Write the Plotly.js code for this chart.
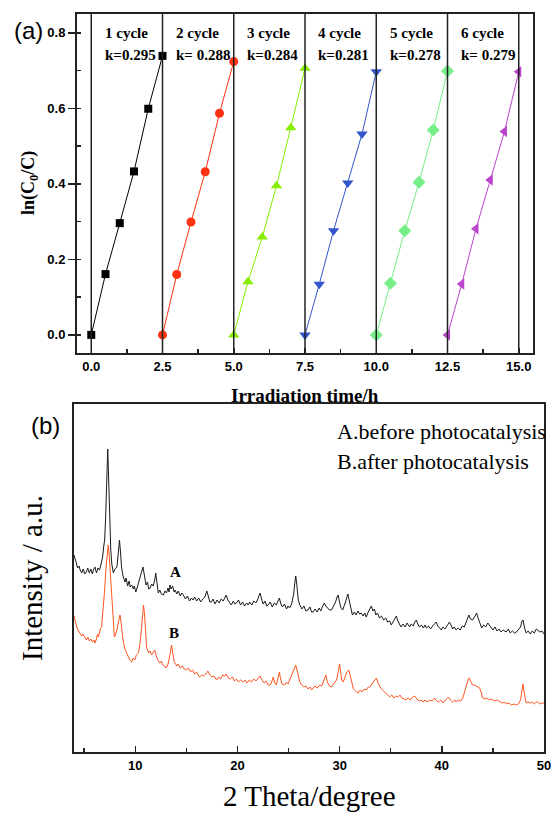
<!DOCTYPE html>
<html>
<head>
<meta charset="utf-8">
<script src="https://cdn.plot.ly/plotly-3.0.1.min.js"></script>
<style>html,body{margin:0;padding:0;background:#fff;}#chart{width:555px;height:814px;}</style>
</head>
<body>
<div id="chart"></div>
<script>
// ---------- Panel (a): ln(C0/C) vs irradiation time, 6 cycles ----------
const t1 = [0, 0.5, 1, 1.5, 2, 2.5];
const t2 = [2.5, 3, 3.5, 4, 4.5, 5];
const t3 = [5, 5.5, 6, 6.5, 7, 7.5];
const t4 = [7.5, 8, 8.5, 9, 9.5, 10];
const t5 = [10, 10.5, 11, 11.5, 12, 12.5];
const t6 = [12.5, 13, 13.5, 14, 14.5, 15];
const ln1 = [0, 0.161, 0.296, 0.433, 0.599, 0.739];
const ln2 = [0, 0.160, 0.299, 0.432, 0.587, 0.724];
const ln3 = [0, 0.141, 0.259, 0.395, 0.549, 0.706];
const ln4 = [0, 0.134, 0.276, 0.402, 0.532, 0.697];
const ln5 = [0, 0.137, 0.276, 0.404, 0.543, 0.699];
const ln6 = [0, 0.135, 0.281, 0.410, 0.539, 0.697];
const cycleLabels = ['1 cycle', '2 cycle', '3 cycle', '4 cycle', '5 cycle', '6 cycle'];
const kLabels = ['k=0.295', 'k= 0.288', 'k=0.284', 'k=0.281', 'k=0.278', 'k= 0.279'];
const separators = [0, 2.5, 5, 7.5, 10, 12.5, 15];

// ---------- Panel (b): XRD patterns, [2theta, intensity (a.u.)] ----------
const patternA = [[4.0,197],[4.1,192],[4.2,190],[4.35,184],[4.5,186],[4.6,182],[4.75,179],[4.9,183],[5.05,178],[5.2,180],[5.35,184],[5.5,179],[5.65,183],[5.8,178],[5.9,182],[6.05,185],[6.2,179],[6.35,184],[6.5,182],[6.65,188],[6.8,195],[6.9,205],[7.0,212],[7.1,235],[7.2,275],[7.3,303],[7.4,270],[7.5,225],[7.6,202],[7.7,188],[7.85,179],[8.0,183],[8.2,185],[8.3,195],[8.45,212],[8.55,200],[8.65,185],[8.8,176],[9.0,170],[9.1,174],[9.25,166],[9.4,171],[9.5,165],[9.65,167],[9.8,163],[9.9,166],[10.05,160],[10.2,165],[10.35,170],[10.45,174],[10.6,180],[10.75,185],[10.9,176],[11.05,167],[11.2,170],[11.3,163],[11.45,164],[11.6,168],[11.75,166],[11.9,172],[12.0,179],[12.1,172],[12.25,159],[12.4,162],[12.55,158],[12.75,157],[12.9,161],[13.05,159],[13.2,164],[13.3,160],[13.4,167],[13.5,163],[13.65,166],[13.8,160],[13.9,162],[14.05,158],[14.2,161],[14.4,156],[14.55,159],[14.7,157],[14.9,153],[15.1,156],[15.3,151],[15.5,154],[15.65,152],[15.8,155],[16.0,151],[16.2,154],[16.4,150],[16.6,153],[16.8,155],[17.0,161],[17.15,156],[17.3,150],[17.45,150],[17.6,153],[17.8,148],[18.0,152],[18.2,149],[18.4,153],[18.6,151],[18.75,155],[18.9,157],[19.05,152],[19.2,150],[19.4,147],[19.6,151],[19.75,148],[19.9,149],[20.1,152],[20.3,147],[20.5,150],[20.7,146],[20.9,149],[21.05,147],[21.2,150],[21.4,147],[21.6,151],[21.8,149],[22.0,153],[22.2,159],[22.35,152],[22.5,148],[22.7,151],[22.85,146],[23.0,147],[23.2,150],[23.4,145],[23.6,149],[23.8,147],[23.95,151],[24.1,154],[24.25,148],[24.4,145],[24.6,148],[24.8,143],[24.95,146],[25.1,144],[25.3,148],[25.5,158],[25.6,168],[25.7,176],[25.8,168],[25.95,152],[26.1,147],[26.3,143],[26.5,146],[26.7,141],[26.9,142],[27.1,145],[27.25,140],[27.4,140],[27.6,143],[27.8,140],[28.0,144],[28.15,141],[28.3,145],[28.5,149],[28.65,146],[28.8,144],[29.0,142],[29.2,142],[29.4,146],[29.6,150],[29.75,155],[29.85,157],[29.95,152],[30.1,145],[30.3,142],[30.45,146],[30.6,151],[30.8,158],[30.9,153],[31.05,144],[31.25,137],[31.45,140],[31.6,137],[31.8,141],[31.95,138],[32.1,139],[32.3,136],[32.45,139],[32.6,135],[32.8,140],[32.95,143],[33.1,146],[33.25,141],[33.4,143],[33.55,137],[33.7,139],[33.9,134],[34.1,136],[34.3,132],[34.5,134],[34.7,130],[34.9,131],[35.05,127],[35.2,130],[35.35,133],[35.55,136],[35.7,131],[35.85,128],[36.0,125],[36.2,128],[36.4,125],[36.6,129],[36.85,125],[37.0,128],[37.2,126],[37.35,130],[37.5,132],[37.65,128],[37.8,125],[38.0,127],[38.2,124],[38.35,127],[38.5,124],[38.7,126],[38.9,123],[39.1,126],[39.3,128],[39.45,130],[39.6,126],[39.8,124],[39.95,122],[40.1,125],[40.3,123],[40.5,126],[40.75,130],[40.9,127],[41.05,123],[41.2,125],[41.4,122],[41.6,124],[41.8,122],[42.0,126],[42.2,125],[42.35,129],[42.5,134],[42.65,137],[42.8,133],[43.0,132],[43.2,135],[43.4,139],[43.55,134],[43.75,128],[43.9,124],[44.1,127],[44.3,125],[44.5,129],[44.7,126],[44.85,124],[45.0,122],[45.2,125],[45.4,121],[45.6,123],[45.8,120],[46.0,122],[46.3,120],[46.5,123],[46.7,119],[46.9,121],[47.1,119],[47.3,120],[47.5,122],[47.7,125],[47.85,131],[47.95,132],[48.1,124],[48.25,119],[48.45,121],[48.65,118],[48.85,121],[49.05,119],[49.25,123],[49.4,122],[49.6,120],[49.8,121],[50.0,118]];
const patternB = [[4.0,136],[4.1,132],[4.2,128],[4.3,124],[4.45,121],[4.6,119],[4.75,116],[4.9,118],[5.05,114],[5.2,112],[5.35,115],[5.5,111],[5.65,113],[5.8,110],[5.95,112],[6.05,109],[6.2,113],[6.3,118],[6.4,115],[6.5,121],[6.6,124],[6.7,125],[6.8,135],[6.9,148],[7.0,162],[7.1,180],[7.2,195],[7.3,204],[7.35,207],[7.45,196],[7.55,180],[7.65,160],[7.75,140],[7.85,125],[7.95,115],[8.05,117],[8.2,122],[8.35,130],[8.5,137],[8.6,130],[8.7,120],[8.8,112],[8.95,104],[9.15,99],[9.3,95],[9.45,92],[9.65,90],[9.8,94],[9.95,92],[10.1,97],[10.3,99],[10.45,108],[10.6,122],[10.7,138],[10.8,147],[10.9,138],[11.0,118],[11.1,105],[11.3,99],[11.45,101],[11.6,97],[11.75,100],[11.9,102],[12.05,96],[12.2,92],[12.4,89],[12.55,91],[12.7,87],[12.85,86],[13.0,84],[13.2,88],[13.35,95],[13.5,105],[13.55,107],[13.65,100],[13.8,90],[13.9,89],[14.05,86],[14.2,88],[14.4,84],[14.6,86],[14.8,83],[15.0,82],[15.2,84],[15.4,80],[15.6,82],[15.8,78],[16.0,80],[16.15,77],[16.3,75],[16.5,77],[16.7,76],[16.9,78],[17.1,81],[17.3,77],[17.5,75],[17.7,76],[17.95,72],[18.15,75],[18.35,73],[18.55,77],[18.75,76],[18.9,78],[19.1,74],[19.3,73],[19.5,75],[19.7,71],[19.9,73],[20.1,70],[20.3,72],[20.55,70],[20.75,72],[20.95,69],[21.15,72],[21.35,70],[21.6,73],[21.8,71],[22.0,74],[22.2,76],[22.4,72],[22.6,69],[22.8,71],[23.0,67],[23.2,67],[23.35,70],[23.5,75],[23.65,69],[23.8,67],[23.95,73],[24.1,80],[24.2,74],[24.35,68],[24.6,67],[24.8,70],[24.95,68],[25.1,72],[25.3,76],[25.5,83],[25.7,87],[25.85,81],[26.0,73],[26.1,70],[26.3,67],[26.5,65],[26.7,66],[26.9,63],[27.1,65],[27.25,62],[27.4,64],[27.6,66],[27.8,64],[28.05,67],[28.25,66],[28.4,70],[28.55,76],[28.65,77],[28.8,70],[29.0,66],[29.2,65],[29.4,68],[29.55,71],[29.7,72],[29.85,80],[30.0,88],[30.1,80],[30.2,72],[30.35,70],[30.5,74],[30.7,80],[30.9,82],[31.05,76],[31.2,68],[31.35,63],[31.55,61],[31.8,59],[32.0,62],[32.2,60],[32.4,63],[32.6,62],[32.8,65],[32.95,65],[33.15,68],[33.35,71],[33.5,73],[33.6,74],[33.75,69],[33.95,65],[34.2,62],[34.4,60],[34.65,57],[34.9,55],[35.1,57],[35.3,54],[35.5,56],[35.7,55],[35.9,57],[36.1,54],[36.3,53],[36.5,52],[36.7,54],[36.9,52],[37.15,55],[37.35,56],[37.55,53],[37.8,51],[38.0,52],[38.15,50],[38.35,52],[38.55,50],[38.8,52],[39.05,51],[39.3,54],[39.5,51],[39.7,50],[39.9,52],[40.1,49],[40.3,51],[40.5,53],[40.65,55],[40.85,52],[41.05,50],[41.25,52],[41.4,50],[41.6,52],[41.85,51],[42.05,54],[42.25,60],[42.45,68],[42.6,73],[42.7,74],[42.85,70],[43.0,67],[43.2,67],[43.4,66],[43.55,65],[43.7,64],[43.85,60],[44.0,54],[44.2,53],[44.4,54],[44.6,52],[44.8,53],[45.0,52],[45.2,51],[45.45,52],[45.7,50],[45.95,49],[46.15,50],[46.3,48],[46.55,49],[46.8,47],[47.05,48],[47.3,47],[47.5,48],[47.7,52],[47.85,62],[47.95,68],[48.05,60],[48.15,52],[48.25,49],[48.45,50],[48.65,49],[48.85,50],[49.05,48],[49.25,50],[49.4,50],[49.6,48],[49.8,49],[50.0,49]];
const legendLines = ['A.before photocatalysis', 'B.after photocatalysis'];
const curveLabels = ['A', 'B'];
const labelPosA = [13.9, 180];
const labelPosB = [13.8, 119];

// ---------- styles ----------
const colors = ['#000000', '#FF3311', '#88EE00', '#3355CC', '#77EE88', '#BB44CC'];
const symbols = ['square', 'circle', 'triangle-up', 'triangle-down', 'diamond', 'triangle-left'];
const sizes = [8, 9, 10, 10, 10, 10];
const serif = 'Liberation Serif, Times New Roman, serif';
const sans = 'Liberation Sans, Arial, sans-serif';
const W = 555, H = 814;
const px = v => v / W;
const py = v => 1 - v / H;

const tList = [t1, t2, t3, t4, t5, t6];
const lnList = [ln1, ln2, ln3, ln4, ln5, ln6];
const traces = tList.map((t, i) => ({
  x: t, y: lnList[i], xaxis: 'x', yaxis: 'y', type: 'scatter', mode: 'lines+markers',
  line: {color: colors[i], width: 1},
  marker: {symbol: symbols[i], size: sizes[i], color: colors[i]},
  showlegend: false, hoverinfo: 'skip'
}));
traces.push({x: patternA.map(p => p[0]), y: patternA.map(p => p[1]), xaxis: 'x2', yaxis: 'y2', type: 'scatter', mode: 'lines',
  line: {color: '#1a1a1a', width: 1}, showlegend: false});
traces.push({x: patternB.map(p => p[0]), y: patternB.map(p => p[1]), xaxis: 'x2', yaxis: 'y2', type: 'scatter', mode: 'lines',
  line: {color: '#FF5522', width: 1}, showlegend: false});

const shapes = separators.map(s => ({
  type: 'line', xref: 'x', yref: 'y domain', x0: s, x1: s, y0: 0, y1: 1,
  line: {color: '#222', width: 1.5}
}));

const annotations = [];
separators.slice(0, 6).forEach((s, i) => {
  annotations.push({xref: 'x', yref: 'y', x: s + 0.4, y: 0.8, text: '<b>' + cycleLabels[i] + '</b>',
    showarrow: false, xanchor: 'left', yanchor: 'middle', font: {family: serif, size: 15, color: '#000'}});
  annotations.push({xref: 'x', yref: 'y', x: s + 0.4, y: 0.742, text: '<b>' + kLabels[i] + '</b>',
    showarrow: false, xanchor: 'left', yanchor: 'middle', font: {family: serif, size: 15, color: '#000'}});
});
annotations.push({xref: 'paper', yref: 'paper', x: px(28), y: py(31), text: '(a)', showarrow: false,
  xanchor: 'center', yanchor: 'middle', font: {family: sans, size: 24, color: '#000'}});
annotations.push({xref: 'paper', yref: 'paper', x: px(45), y: py(425), text: '(b)', showarrow: false,
  xanchor: 'center', yanchor: 'middle', font: {family: sans, size: 24, color: '#000'}});
annotations.push({xref: 'paper', yref: 'paper', x: px(30), y: py(183), text: '<b>ln(C<sub>0</sub>/C)</b>',
  textangle: -90, showarrow: false, xanchor: 'center', yanchor: 'middle', font: {family: serif, size: 18, color: '#000'}});
annotations.push({xref: 'paper', yref: 'paper', x: px(305), y: py(395), text: '<b>Irradiation time/h</b>',
  showarrow: false, xanchor: 'center', yanchor: 'middle', font: {family: serif, size: 19, color: '#000'}});
annotations.push({xref: 'paper', yref: 'paper', x: px(32), y: py(578), text: 'Intensity / a.u.',
  textangle: -90, showarrow: false, xanchor: 'center', yanchor: 'middle', font: {family: serif, size: 29, color: '#000'}});
annotations.push({xref: 'paper', yref: 'paper', x: px(309), y: py(796), text: '2 Theta/degree',
  showarrow: false, xanchor: 'center', yanchor: 'middle', font: {family: serif, size: 29, color: '#000'}});
legendLines.forEach((txt, i) => {
  annotations.push({xref: 'paper', yref: 'paper', x: px(335), y: py(432 + i * 29), text: txt,
    showarrow: false, xanchor: 'left', yanchor: 'middle', font: {family: serif, size: 22, color: '#000'}});
});
annotations.push({xref: 'x2', yref: 'y2', x: labelPosA[0], y: labelPosA[1], text: '<b>' + curveLabels[0] + '</b>', showarrow: false,
  xanchor: 'center', yanchor: 'middle', font: {family: serif, size: 15, color: '#000'}});
annotations.push({xref: 'x2', yref: 'y2', x: labelPosB[0], y: labelPosB[1], text: '<b>' + curveLabels[1] + '</b>', showarrow: false,
  xanchor: 'center', yanchor: 'middle', font: {family: serif, size: 15, color: '#000'}});

const axisCommon = {showline: true, linecolor: '#222', linewidth: 2, mirror: true, showgrid: false, zeroline: false,
  tickfont: {family: sans, size: 13, color: '#000', weight: 'bold'}, tickcolor: '#222', tickwidth: 1.5};

const layout = {
  width: W, height: H, margin: {l: 0, r: 0, t: 0, b: 0},
  paper_bgcolor: '#fff', plot_bgcolor: '#fff', showlegend: false,
  xaxis: Object.assign({}, axisCommon, {domain: [px(77), px(533)], range: [-0.5, 15.5], anchor: 'y',
    tickmode: 'linear', tick0: 0, dtick: 2.5, tickformat: '.1f', ticks: 'inside', ticklen: 5,
    minor: {ticks: 'inside', dtick: 1.25, tick0: 0, ticklen: 4, tickcolor: '#222', tickwidth: 1.5}}),
  yaxis: Object.assign({}, axisCommon, {domain: [py(353), py(14)], range: [-0.048, 0.85], anchor: 'x',
    tickmode: 'linear', tick0: 0, dtick: 0.2, tickformat: '.1f', ticks: 'outside', ticklen: 7,
    minor: {ticks: 'inside', dtick: 0.1, tick0: 0, ticklen: 4, tickcolor: '#222', tickwidth: 1.5}}),
  xaxis2: Object.assign({}, axisCommon, {domain: [px(74), px(544)], range: [4, 50], anchor: 'y2',
    tickmode: 'linear', tick0: 0, dtick: 10, ticks: 'inside', ticklen: 6,
    minor: {ticks: 'inside', dtick: 5, tick0: 0, ticklen: 4, tickcolor: '#222', tickwidth: 1.5}}),
  yaxis2: Object.assign({}, axisCommon, {domain: [py(752), py(404)], range: [0, 348], anchor: 'x2',
    showticklabels: false, ticks: ''}),
  shapes: shapes,
  annotations: annotations
};

Plotly.newPlot('chart', traces, layout, {staticPlot: true, displayModeBar: false});
</script>
</body>
</html>
